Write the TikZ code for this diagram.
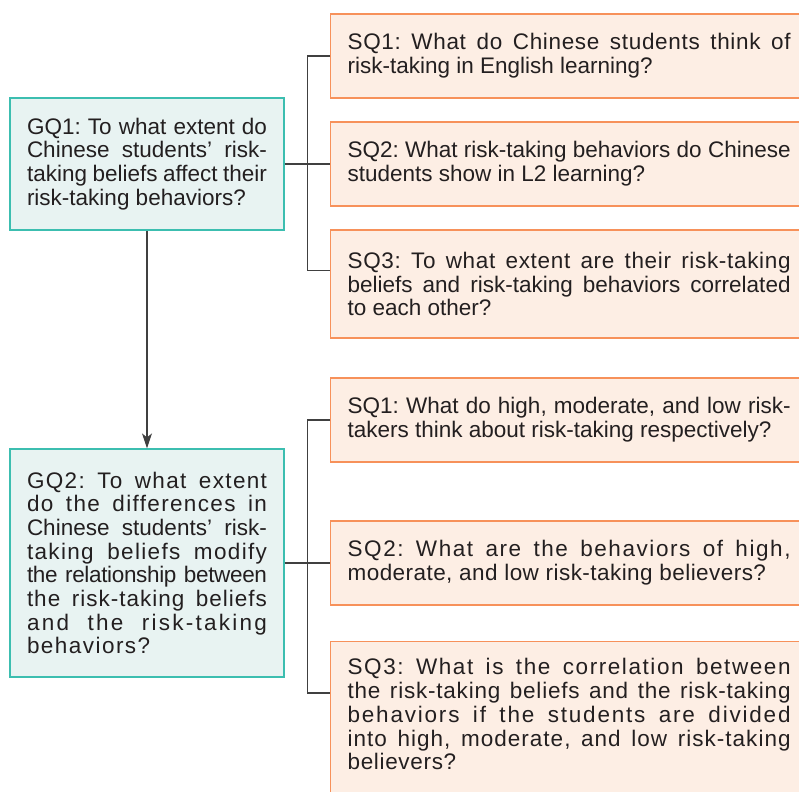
\documentclass[tikz,border=0pt]{standalone}
\usepackage{fontspec}
\setmainfont{Liberation Sans}
\usepackage{xcolor}
\usepackage{tikz}
\usetikzlibrary{arrows.meta,calc}

\definecolor{gqline}{RGB}{60,190,176}
\definecolor{gqfill}{RGB}{232,243,242}
\definecolor{sqline}{RGB}{247,145,90}
\definecolor{sqfill}{RGB}{253,238,228}
\definecolor{ink}{RGB}{35,31,32}
% tracked line
\newcommand{\ls}[2]{{\addfontfeature{LetterSpace=#1}#2}}

\begin{document}
\begin{tikzpicture}[
            x=1pt, y=-1pt,
            every node/.style={text=ink, font=\fontsize{22.5}{23.7}\selectfont\frenchspacing},
            gq/.style={draw=gqline, fill=gqfill, line width=1.2pt, rectangle, text width=240pt, inner xsep=17pt, inner ysep=0pt, align=justify},
            sq/.style={draw=sqline, fill=sqfill, line width=1.2pt, rectangle, text width=443pt, inner xsep=17pt, inner ysep=0pt, align=justify, anchor=west},
            link/.style={draw=black!75, line width=1.2pt},
            arrow/.style={link, -{Stealth[length=15pt,width=10pt,inset=4pt]}}
        ]
            \useasboundingbox (0,0) rectangle (799,791);

            % General questions
            \node[gq, minimum height=132pt] (gq1) at (147,164) {GQ1: To what extent do\linebreak Chinese students’ risk-\linebreak taking beliefs affect their\linebreak risk-taking behaviors?};
            \node[gq, minimum height=228pt] (gq2) at (147,563) {\ls{6}{GQ2: To what extent}\linebreak \ls{6}{do the differences in}\linebreak Chinese students’ risk-\linebreak \ls{6}{taking beliefs modify}\linebreak \ls{-1.5}{the relationship between}\linebreak \ls{4.5}{the risk-taking beliefs}\linebreak \ls{10}{and the risk-taking}\linebreak \ls{6.5}{behaviors?}};

            % Specific questions of GQ1
            \node[sq, minimum height=84pt] (sq1a) at (330,56) {\ls{3}{SQ1: What do Chinese students think of}\linebreak risk-taking in English learning?};
            \node[sq, minimum height=84pt] (sq2a) at (330,164) {SQ2: What risk-taking behaviors do Chinese\linebreak students show in L2 learning?};
            \node[sq, minimum height=108pt] (sq3a) at (330,284) {\ls{3}{SQ3: To what extent are their risk-taking}\linebreak beliefs and risk-taking behaviors correlated\linebreak to each other?};

            % Specific questions of GQ2
            \node[sq, minimum height=84pt] (sq1b) at (330,420) {SQ1: What do high, moderate, and low risk-\linebreak takers think about risk-taking respectively?};
            \node[sq, minimum height=84pt] (sq2b) at (330,563) {\ls{7}{SQ2: What are the behaviors of high,}\linebreak \ls{2}{moderate, and low risk-taking believers?}};
            \node[sq, anchor=north west, inner ysep=17pt] (sq3b) at (330,641) {\ls{7}{SQ3: What is the correlation between}\linebreak \ls{3.5}{the risk-taking beliefs and the risk-taking}\linebreak \ls{8}{behaviors if the students are divided}\linebreak \ls{4.5}{into high, moderate, and low risk-taking}\linebreak \ls{3}{believers?}\par\vspace*{30pt}};

            % Brackets
            \coordinate (ja) at ($(gq1.east)!0.5!(sq2a.west)$);
            \coordinate (jb) at ($(gq2.east)!0.5!(sq2b.west)$);
            \draw[link] (gq1.east) -- (sq2a.west);
            \draw[link] (sq1a.west) -| (ja) |- ([yshift=-41pt]sq3a.north west);
            \draw[link] (gq2.east) -- (sq2b.west);
            \draw[link] (sq1b.west) -| (jb) |- ([yshift=-52pt]sq3b.north west);

            \draw[arrow] (gq1) -- (gq2);
        \end{tikzpicture}
\end{document}
